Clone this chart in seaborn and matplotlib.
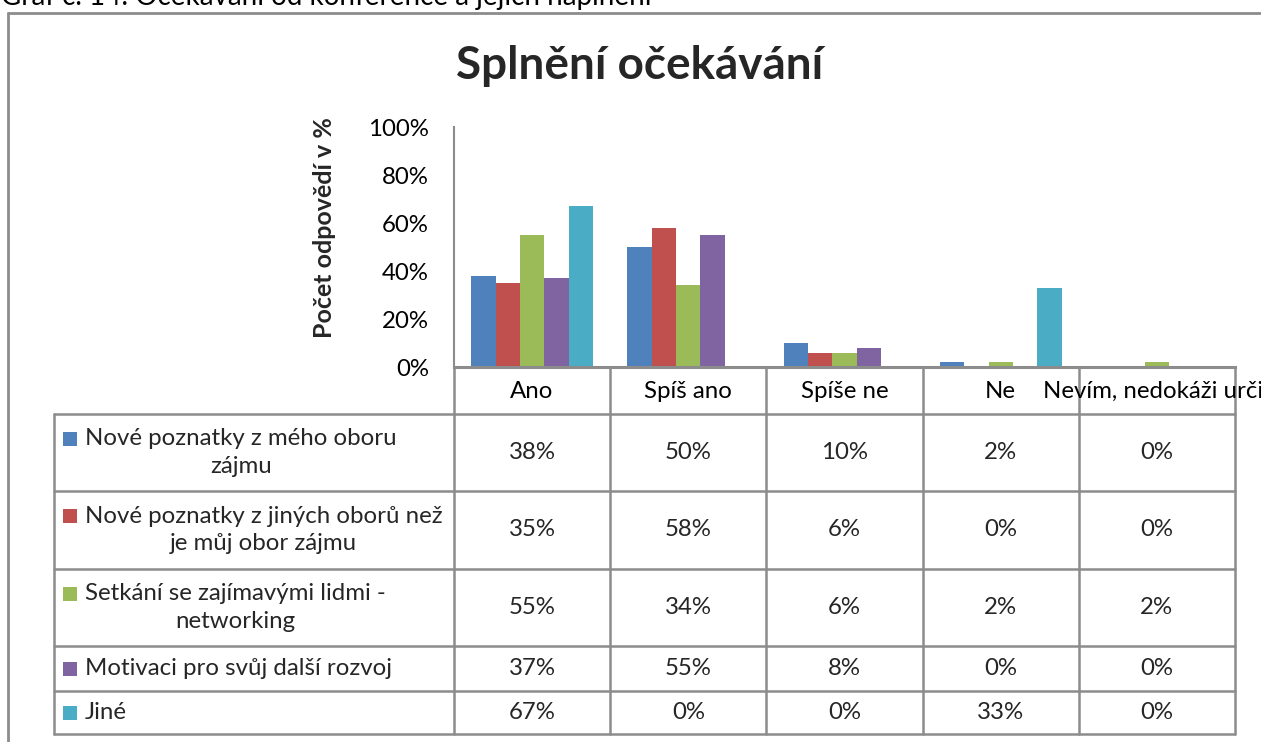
import matplotlib
matplotlib.use("Agg")
import matplotlib.pyplot as plt
import seaborn as sns
import pandas as pd
from matplotlib.lines import Line2D
from matplotlib.patches import Rectangle

# ---------------- data ----------------
categories = ["Ano", "Spíš ano", "Spíše ne", "Ne", "Nevím, nedokáži určit"]
series_names = [
    "Nové poznatky z mého oboru\nzájmu",
    "Nové poznatky z jiných oborů než\nje můj obor zájmu",
    "Setkání se zajímavými lidmi -\nnetworking",
    "Motivaci pro svůj další rozvoj",
    "Jiné",
]
s_obor = [38, 50, 10, 2, 0]
s_jine_obory = [35, 58, 6, 0, 0]
s_networking = [55, 34, 6, 2, 2]
s_motivace = [37, 55, 8, 0, 0]
s_jine = [67, 0, 0, 33, 0]
series_values = [s_obor, s_jine_obory, s_networking, s_motivace, s_jine]
colors = ["#4F81BD", "#C0504D", "#9BBB59", "#8064A2", "#4BACC6"]
yticks = [0, 20, 40, 60, 80, 100]
title = "Splnění očekávání"
ylabel = "Počet odpovědí v %"
caption = "Graf č. 14: Očekávání od konference a jejich naplnění"

rows = []
for name, vals in zip(series_names, series_values):
    for cat, v in zip(categories, vals):
        rows.append({"kategorie": cat, "serie": name, "hodnota": v})
df = pd.DataFrame(rows)

# ---------------- style ----------------
sns.set_theme(style="white")
FONT = ["Lato", "DejaVu Sans"]
plt.rcParams["font.family"] = FONT
FS = 17.3
GRID = "#8C8C8C"

W, H = 1261, 742
fig = plt.figure(figsize=(W / 100, H / 100), dpi=100, facecolor="white")

# plot area in pixel geometry
PX_L, PX_R, PX_T, PX_B = 454, 1235, 127, 367
ax = fig.add_axes([PX_L / W, 1 - PX_B / H, (PX_R - PX_L) / W, (PX_B - PX_T) / H])

sns.barplot(
    data=df, x="kategorie", y="hodnota", hue="serie",
    order=categories, hue_order=series_names, palette=colors,
    width=0.78, saturation=1, linewidth=0, legend=False, ax=ax,
)
ax.set_xlim(-0.5, len(categories) - 0.5)
ax.set_ylim(0, 100)
ax.set_yticks(yticks, [f"{v}%" for v in yticks])
ax.set_xticks(range(len(categories)), categories)
ax.tick_params(axis="y", length=0, pad=18, labelsize=FS, colors="black")
ax.tick_params(axis="x", length=0, pad=10, labelsize=FS, colors="black")
ax.set_xlabel("")
ax.set_ylabel("")
for sp in ["top", "right"]:
    ax.spines[sp].set_visible(False)
ax.spines["left"].set_color(GRID)
ax.spines["left"].set_linewidth(1.5)
ax.spines["bottom"].set_color(GRID)
ax.spines["bottom"].set_linewidth(2.2)
ax.set_facecolor("none")

# overlay in pixel coords for frame, title and data table
ov = fig.add_axes([0, 0, 1, 1], zorder=-1)
ov.set_xlim(0, W)
ov.set_ylim(H, 0)
ov.axis("off")
ov.patch.set_visible(False)

# outer chart frame
ov.add_line(Line2D([8, 8], [13, H + 5], color=GRID, lw=2))
ov.add_line(Line2D([8, W + 5], [13, 13], color=GRID, lw=2))
ov.text(1, 5, caption, fontsize=20, va="baseline", ha="left", color="black")

ov.text(640, 66, title, fontsize=33, fontweight="bold", ha="center", va="center")
ov.text(325, 228, ylabel, fontsize=18, fontweight="bold", rotation=90,
        ha="center", va="center")

# data table
n = len(categories)
col_edges = [PX_L + i * (PX_R - PX_L) / n for i in range(n + 1)]
row_edges = [PX_B, 414, 491, 569, 646, 691, 734]
TAB_L = 54
for x in col_edges:
    ov.add_line(Line2D([x, x], [PX_B, row_edges[-1]], color=GRID, lw=1.8))
ov.add_line(Line2D([TAB_L, TAB_L], [row_edges[1], row_edges[-1]], color=GRID, lw=1.8))
for y in row_edges[1:]:
    ov.add_line(Line2D([TAB_L, PX_R], [y, y], color=GRID, lw=1.8))

LINE_H = 28
for r, (name, vals, col) in enumerate(zip(series_names, series_values, colors)):
    y0, y1 = row_edges[r + 1], row_edges[r + 2]
    yc = (y0 + y1) / 2
    nlines = name.count("\n") + 1
    first_c = yc - (nlines - 1) * LINE_H / 2
    ov.add_patch(Rectangle((63, first_c - 7), 14, 14, facecolor=col, edgecolor="none"))
    ov.text(85, yc, name, fontsize=FS, ha="left", va="center",
            multialignment="center", linespacing=1.36)
    for c, v in enumerate(vals):
        xc = (col_edges[c] + col_edges[c + 1]) / 2
        ov.text(xc, yc, f"{v}%", fontsize=FS, ha="center", va="center")

fig.savefig("out.png", dpi=100, facecolor="white")
